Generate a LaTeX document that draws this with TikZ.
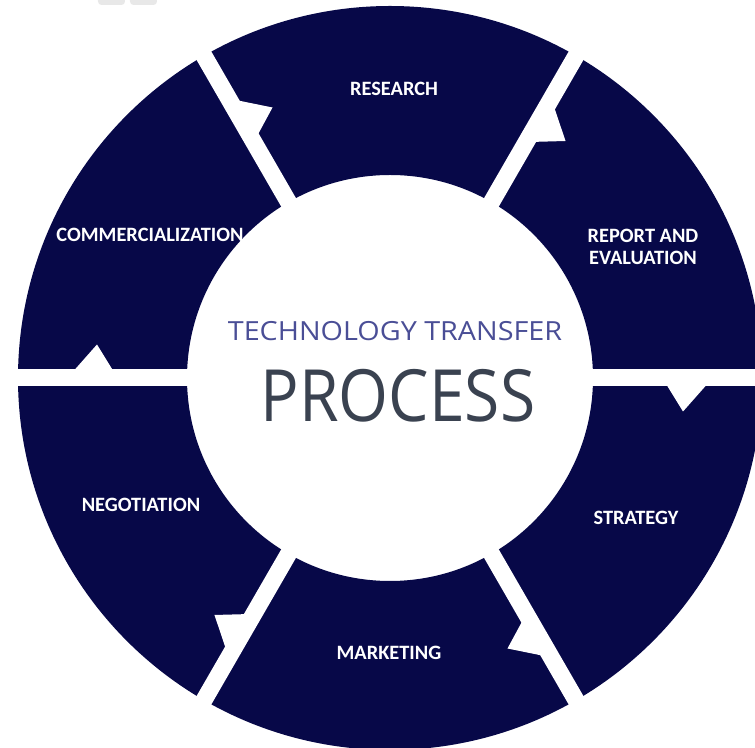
\documentclass[tikz,border=0pt]{standalone}
\usepackage{fontspec}
\usepackage{graphicx}
\usetikzlibrary{positioning}
\setmainfont{Open Sans}
\newfontfamily\segfont{Carlito}
\definecolor{ringblue}{RGB}{7,8,72}
\definecolor{techblue}{RGB}{74,78,150}
\definecolor{procgray}{RGB}{58,66,80}

\begin{document}
\begin{tikzpicture}[x=1cm,y=1cm]

  \tikzstyle{segment label}=[text=white,align=center,
                             font=\segfont\bfseries\fontsize{11.6}{12.5}\selectfont]

  \useasboundingbox (-7.8,-7.4) rectangle (7.3,7.56);

  % faint marks at the top edge
  \fill[gray!18,rounded corners=2pt] (-5.84,7.46) rectangle (-5.30,7.70);
  \fill[gray!18,rounded corners=2pt] (-5.20,7.46) rectangle (-4.66,7.70);

  % the ring
  \fill[ringblue,even odd rule] (0,0) circle (7.44) (0,0) circle (4.06);

  % gaps, each with a white arrow tip pointing clockwise
  \foreach \a in {0,60,...,300}
  {
    \draw[white,line width=0.34cm] (0,0) -- (\a:8);
    \fill[white,rotate=\a] (5.54,-0.15) -- (5.86,-0.67) -- (6.32,-0.15) -- cycle;
  }

  \node[segment label] (research) at (0.08,5.78)   {RESEARCH};
  \node[segment label] (report)   at (5.06,2.62)   {REPORT AND\\EVALUATION};
  \node[segment label] (strategy) at (4.92,-2.80)  {STRATEGY};
  \node[segment label] (market)   at (-0.02,-5.50) {MARKETING};
  \node[segment label] (negot)    at (-4.98,-2.54) {NEGOTIATION};
  \node[segment label] (commerce) at (-4.80,2.86)  {COMMERCIALIZATION};

  \node[text=techblue,font=\fontsize{15}{16}\selectfont] (tech) at (0.10,0.94)
       {\scalebox{1.09}[1]{TECHNOLOGY TRANSFER}};
  \node[text=procgray,font=\fontsize{41}{41}\selectfont] (process) at (0.16,-0.36)
       {\scalebox{0.89}[1]{PROCESS}};
\end{tikzpicture}
\end{document}
